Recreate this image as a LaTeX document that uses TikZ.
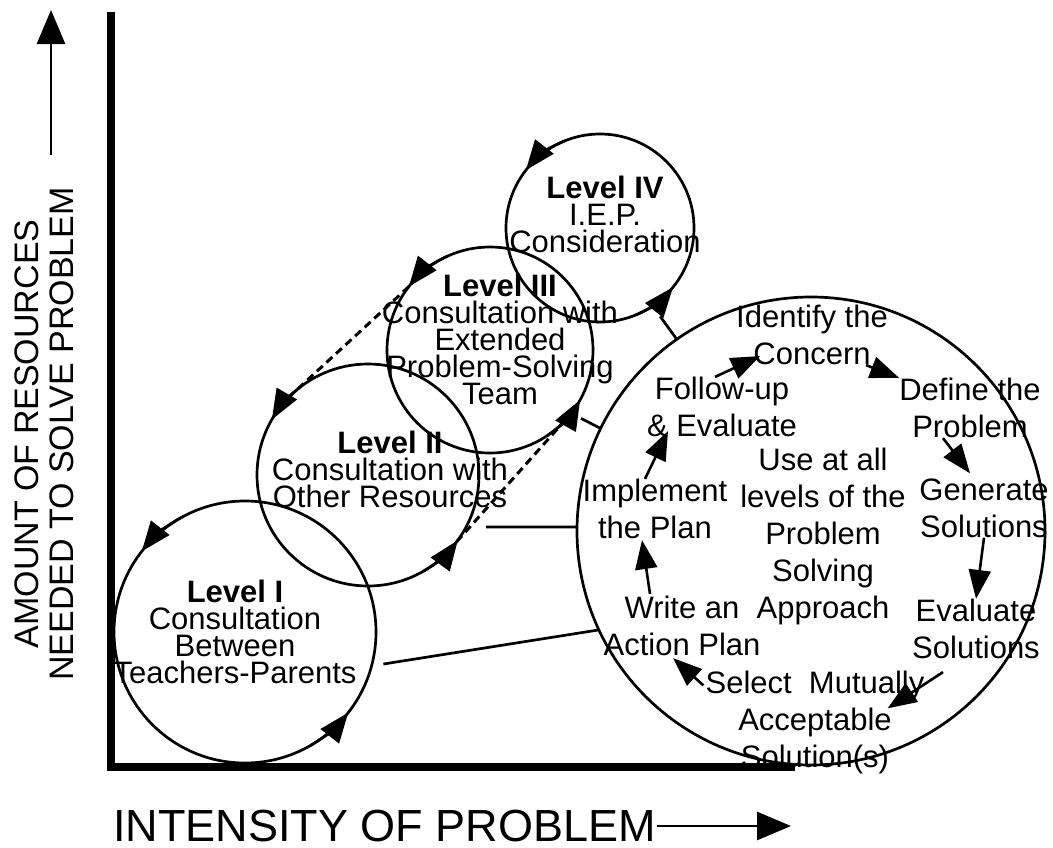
\documentclass[tikz,border=0pt]{standalone}
\usepackage{fontspec}
\setmainfont{Liberation Sans}
\usetikzlibrary{arrows.meta, positioning}
\setlength{\lineskiplimit}{-40pt}
\tikzset{
  ring/.style     = {draw, circle, line width=2.7pt, inner sep=0pt, outer sep=0pt},
  lvltext/.style  = {align=center, inner sep=0pt, font=\fontsize{31}{27}\selectfont},
  steptext/.style = {align=center, inner sep=0pt, font=\fontsize{31}{37}\selectfont},
  arr/.style      = {-{Triangle[length=29pt,width=22pt]}, line width=2.6pt},
  ringarr/.style  = {-{Triangle[length=30pt,width=23pt]}, line width=2.7pt},
  axarr/.style    = {-{Triangle[length=34pt,width=28pt]}, line width=2.8pt},
  link/.style     = {line width=2.7pt},
  dashlink/.style = {line width=3pt, dash pattern=on 8pt off 5pt},
  axisline/.style = {line width=8.5pt}
}
\begin{document}
\begin{tikzpicture}[x=1pt, y=1pt]
  \useasboundingbox (0,0) rectangle (1053,-847);

  % axes and their labels
  \draw[axisline] (111,-12) -- (111,-767) -- (795,-767);
  \node[font=\fontsize{45}{45}\selectfont, inner sep=1pt, anchor=west]
    (xlab) at (112,-826) {INTENSITY OF PROBLEM};
  \coordinate (xtip) at (791,-826);
  \draw[axarr] (xlab.east) -- (xtip);
  \node[rotate=90, align=center, inner sep=0pt,
        font=\fontsize{34}{35}\selectfont]
    (ylab) at (44,-434) {AMOUNT OF RESOURCES\\NEEDED TO SOLVE PROBLEM};
  \coordinate (ytail) at (51,-155);
  \coordinate (ytip)  at (51,-10);
  \draw[axarr] (ytail) -- (ytip);

  % the four levels
  \node[ring, minimum size=262pt] (lvlI)   at (245,-632) {};
  \node[ring, minimum size=222pt] (lvlII)  at (368,-475) {};
  \node[ring, minimum size=206pt] (lvlIII) at (490,-350) {};
  \node[ring, minimum size=188pt] (lvlIV)  at (600,-228) {};
  \node[lvltext] (txtI)   at (235,-632)
    {\textbf{Level I}\\Consultation\\Between\\Teachers-Parents};
  \node[lvltext] (txtII)  at (390,-469)
    {\textbf{Level II}\\Consultation with\\Other Resources};
  \node[lvltext] (txtIII) at (500,-339)
    {\textbf{Level III}\\Consultation with\\Extended\\Problem-Solving\\Team};
  \node[lvltext] (txtIV)  at (605,-214)
    {\textbf{Level IV}\\I.E.P.\\Consideration};

  \draw[ringarr] (lvlI.118)   arc[start angle=118, end angle=142, radius=131];
  \draw[ringarr] (lvlI.-60)   arc[start angle=-60, end angle=-38, radius=131];
  \draw[ringarr] (lvlII.130)  arc[start angle=130, end angle=150, radius=111];
  \draw[ringarr] (lvlII.-60)  arc[start angle=-60, end angle=-36, radius=111];
  \draw[ringarr] (lvlIII.114) arc[start angle=114, end angle=142, radius=103];
  \draw[ringarr] (lvlIII.-56) arc[start angle=-56, end angle=-29, radius=103];
  \draw[ringarr] (lvlIV.112)  arc[start angle=112, end angle=142, radius=94];
  \draw[ringarr] (lvlIV.-68)  arc[start angle=-68, end angle=-39, radius=94];

  \draw[dashlink] (lvlIII.142) -- (lvlII.135);
  \draw[dashlink] (lvlII.-37) -- (lvlIII.-45);

  % problem solving cycle
  \node[ring, minimum size=468pt] (steps) at (811,-531) {};
  \node[steptext] (identify)  at (812,-335) {Identify the\\Concern};
  \node[steptext] (define)    at (970,-408) {Define the\\Problem};
  \node[steptext] (generate)  at (984,-508) {Generate\\Solutions};
  \node[steptext] (evaluate)  at (976,-629) {Evaluate\\Solutions};
  \node[steptext] (select)    at (815,-722) {Select~~Mutually\\Acceptable\\Solution(s)};
  \node[steptext] (write)     at (682,-626) {Write an\\Action Plan};
  \node[steptext] (implement) at (655,-509) {Implement\\the Plan};
  \node[steptext] (follow)    at (722,-407) {Follow-up\\\& Evaluate};
  \node[steptext] (useall)    at (823,-536)
    {Use at all\\levels of the\\Problem\\Solving\\Approach};

  \draw[arr] ([xshift=-7pt]follow.north) -- ([xshift=24pt,yshift=9pt]identify.south west);
  \draw[arr] ([xshift=-22pt]identify.south east) -- (define.north west);
  \draw[arr] ([xshift=-27pt]define.south) -- ([xshift=-14pt,yshift=5pt]generate.north);
  \draw[arr] (generate.south) -- (evaluate.north);
  \draw[arr] ([xshift=-33pt,yshift=-13pt]evaluate.south) -- ([xshift=-37pt,yshift=-38pt]select.north east);
  \draw[arr] ([xshift=-2pt,yshift=-15pt]select.north west) -- ([xshift=-9pt,yshift=-2pt]write.south);
  \draw[arr] ([xshift=-32pt,yshift=2pt]write.north) -- ([xshift=-13pt,yshift=-1pt]implement.south);
  \draw[arr] ([xshift=-10pt]implement.north) -- ([xshift=-54pt,yshift=6pt]follow.south);

  % every level uses the cycle
  \draw[link, shorten <=13pt] (lvlIV.-56)  -- (steps.125);
  \draw[link, shorten <=11pt] (lvlIII.-38) -- (steps.154);
  \draw[link, shorten <=20pt] (lvlII.-28)  -- (steps.179);
  \draw[link, shorten <=12pt] (lvlI.-15)   -- (steps.205);
\end{tikzpicture}
\end{document}
